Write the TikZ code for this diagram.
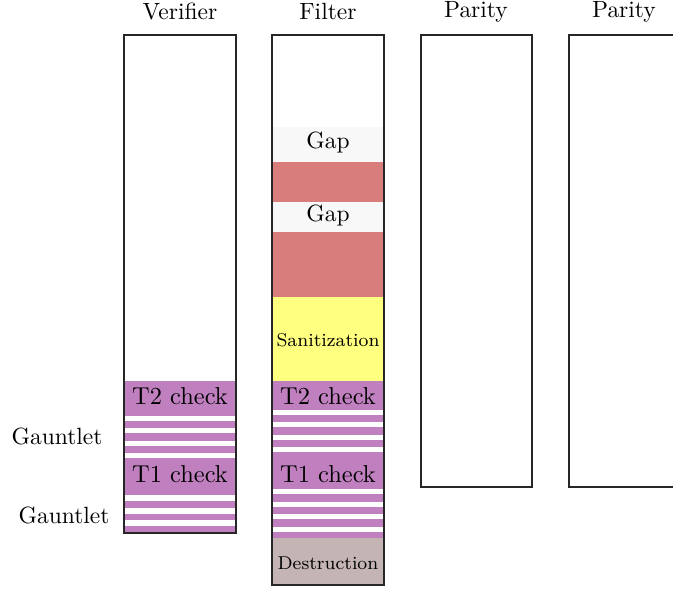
\documentclass[tikz,border=0pt]{standalone}
\definecolor{checkpurple}{RGB}{192,128,192}
\definecolor{gapgray}{RGB}{248,248,248}
\definecolor{blockred}{RGB}{216,124,124}
\definecolor{sanyellow}{RGB}{255,255,128}
\definecolor{destgray}{RGB}{196,180,180}
\tikzset{
  column/.style={draw=black!85, line width=0.8pt},
  coltitle/.style={anchor=base, inner sep=0pt},
  lbl/.style={inner sep=0pt},
  checklbl/.style={inner sep=0pt, font=\fontsize{10.4}{12}\selectfont},
  smalllbl/.style={inner sep=0pt, font=\fontsize{7.9}{9.5}\selectfont},
  stripe/.style={fill=white},
}
\begin{document}
\begin{tikzpicture}[x=0.4255pt, y=-0.4255pt]
\useasboundingbox (0,0) rectangle (673,591);

% column titles
\node[coltitle] (tver) at (180,20) {Verifier};
\node[coltitle] (tfil) at (328,20) {Filter};
\node[coltitle] (tpar1) at (476,18) {Parity};
\node[coltitle] (tpar2) at (624,18) {Parity};

% Verifier: check blocks with striped gauntlets
\fill[checkpurple] (124,381) rectangle (236,533);
\foreach \y in {416,428.5,441,453.5} \fill[stripe] (124,\y) rectangle (236,\y+5);
\foreach \y in {495.5,508,520.5} \fill[stripe] (124,\y) rectangle (236,\y+6);
\node[checklbl] (vt2) at (180,396) {T2 check};
\node[checklbl] (vt1) at (180,474) {T1 check};

% Filter: gaps, blocks, sanitization, checks, destruction
\fill[gapgray] (272,127) rectangle (384,162);
\fill[blockred] (272,162) rectangle (384,202);
\fill[gapgray] (272,202) rectangle (384,232);
\fill[blockred] (272,232) rectangle (384,297);
\fill[sanyellow] (272,297) rectangle (384,381);
\fill[checkpurple] (272,381) rectangle (384,538);
\foreach \y in {410,422.5,435,447.5} \fill[stripe] (272,\y) rectangle (384,\y+5);
\foreach \y in {489.5,502,514.5,527} \fill[stripe] (272,\y) rectangle (384,\y+5);
\fill[destgray] (272,538) rectangle (384,585);
\node[lbl] (gap1) at (328,143) {Gap};
\node[lbl] (gap2) at (328,216) {Gap};
\node[smalllbl] (san) at (328,340) {Sanitization};
\node[checklbl] (ft2) at (328,396) {T2 check};
\node[checklbl] (ft1) at (328,474) {T1 check};
\node[smalllbl] (dest) at (328,563) {Destruction};

% column outlines
\draw[column] (124,35) rectangle (236,533);
\draw[column] (272,35) rectangle (384,585);
\draw[column] (421,35) rectangle (532,487);
\draw[column] (569,35) rectangle (681,487);

% side labels
\node[lbl, anchor=east] (g1) at (103,436) {Gauntlet};
\node[lbl, anchor=east] (g2) at (110,515) {Gauntlet};
\end{tikzpicture}
\end{document}
